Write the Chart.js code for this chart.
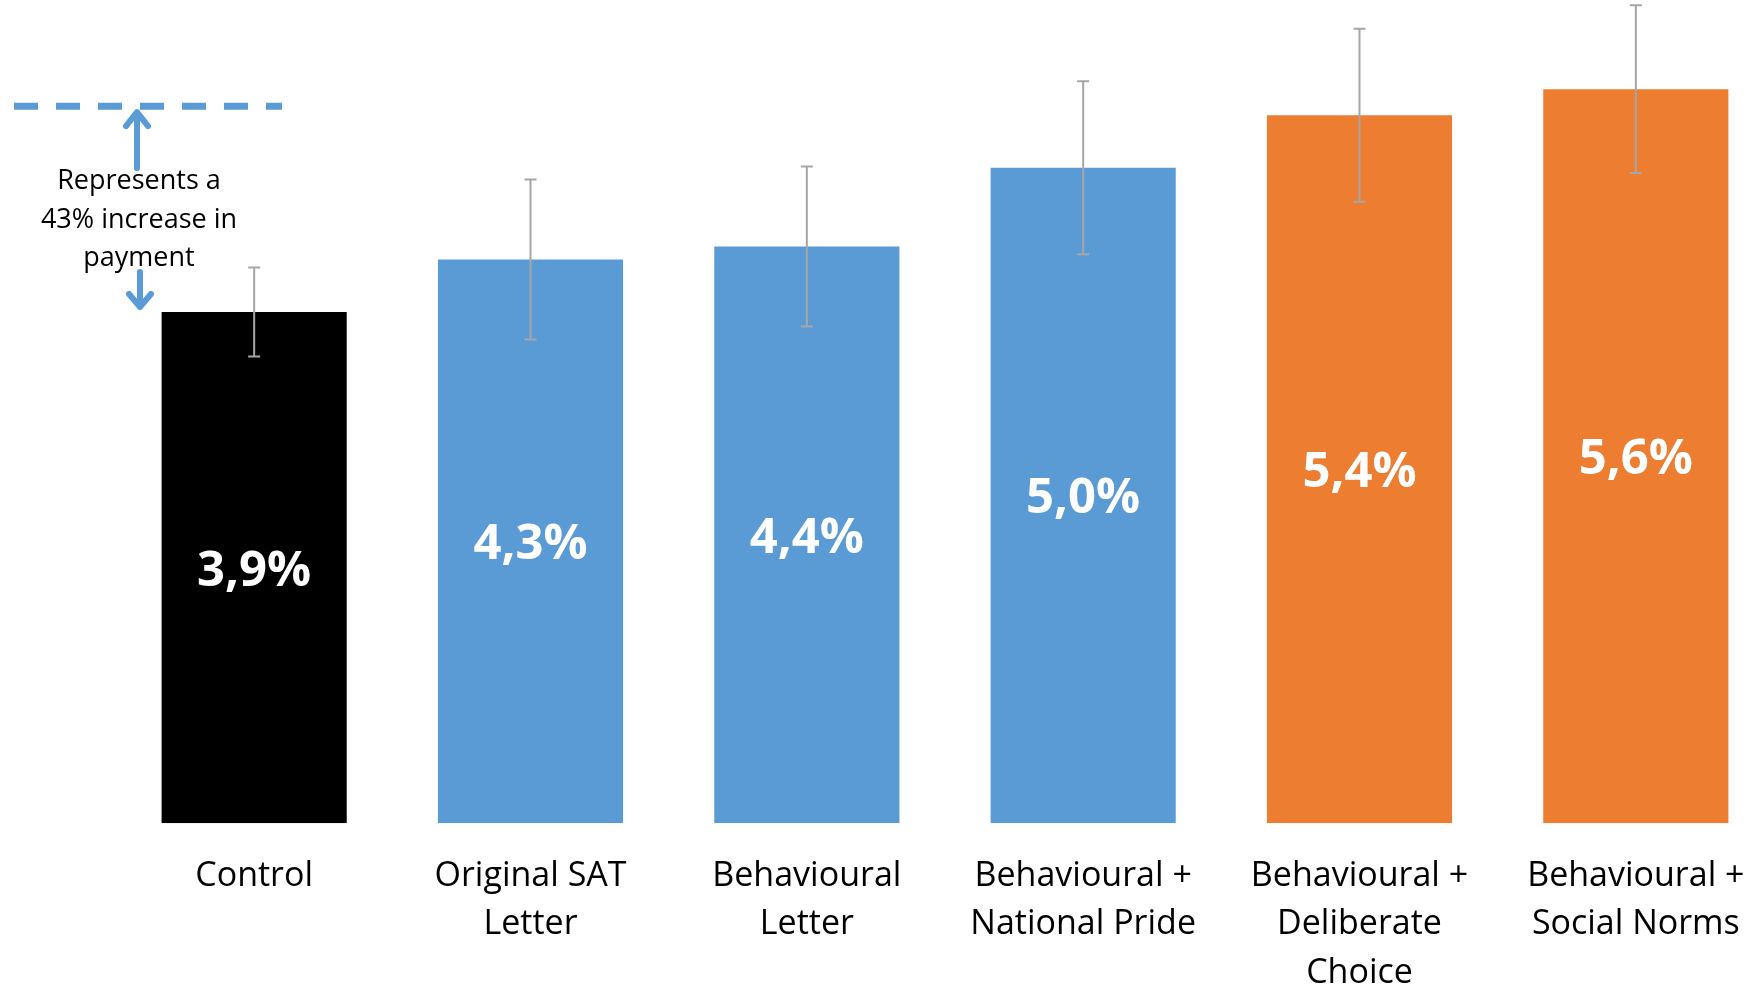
<!DOCTYPE html>
<html>
<head>
<meta charset="utf-8">
<script src="https://cdn.jsdelivr.net/npm/chart.js@4"></script>
<style>
    html, body { margin: 0; padding: 0; background: #fff; overflow: hidden; }
    #wrap { position: absolute; left: 0; top: 0; width: 1800px; height: 1026px; }
</style>
</head>
<body>
<div id="wrap"><canvas id="bar-chart-area"></canvas></div>
<script>
var arrLabel = [
    "Control",
    ["Original SAT", "Letter"],
    ["Behavioural", "Letter"],
    ["Behavioural +", "National Pride"],
    ["Behavioural +", "Deliberate", "Choice"],
    ["Behavioural +", "Social Norms"]
];
var arrData = [3.9, 4.3, 4.4, 5.0, 5.4, 5.6];
var arrError = [0.34, 0.61, 0.61, 0.66, 0.66, 0.64];
var arrColor = ["#000000", "#5B9BD5", "#5B9BD5", "#5B9BD5", "#ED7D31", "#ED7D31"];
var arrNote = ["Represents a", "43% increase in", "payment"];
var noteLevel = 5.47;

// error bars + value labels inside the bars
var barExtras = {
    id: 'barExtras',
    afterDatasetsDraw: function (chart) {
        var ctx = chart.ctx;
        var y = chart.scales.y;
        var meta = chart.getDatasetMeta(0);
        ctx.save();
        meta.data.forEach(function (bar, i) {
            var hi = y.getPixelForValue(arrData[i] + arrError[i]);
            var lo = y.getPixelForValue(arrData[i] - arrError[i]);
            ctx.strokeStyle = "#A6A6A6";
            ctx.lineWidth = 2;
            ctx.beginPath();
            ctx.moveTo(bar.x, hi);
            ctx.lineTo(bar.x, lo);
            ctx.moveTo(bar.x - 6, hi);
            ctx.lineTo(bar.x + 6, hi);
            ctx.moveTo(bar.x - 6, lo);
            ctx.lineTo(bar.x + 6, lo);
            ctx.stroke();
        });
        meta.data.forEach(function (bar, i) {
            ctx.fillStyle = "#ffffff";
            ctx.font = "bold 49px 'Open Sans'";
            ctx.textAlign = "center";
            ctx.textBaseline = "middle";
            ctx.fillText(arrData[i].toFixed(1).replace(".", ",") + "%", bar.x, (bar.y + bar.base) / 2 + 4);
        });
        ctx.restore();
    }
};

// dashed line and arrows at the top left
var noteDraw = {
    id: 'noteDraw',
    afterDraw: function (chart) {
        var ctx = chart.ctx;
        var lineY = chart.scales.y.getPixelForValue(noteLevel);
        var ctrlTop = chart.getDatasetMeta(0).data[0].y;
        var cx = 139;
        ctx.save();
        ctx.strokeStyle = "#5B9BD5";
        ctx.lineWidth = 7;
        ctx.setLineDash([24, 18]);
        ctx.beginPath();
        ctx.moveTo(14, lineY);
        ctx.lineTo(282, lineY);
        ctx.stroke();
        ctx.setLineDash([]);
        ctx.lineWidth = 6;
        ctx.lineCap = "round";
        ctx.lineJoin = "round";
        // up arrow
        ctx.beginPath();
        ctx.moveTo(cx - 2, lineY + 62);
        ctx.lineTo(cx - 2, lineY + 6);
        ctx.moveTo(cx - 13, lineY + 20);
        ctx.lineTo(cx - 2, lineY + 6);
        ctx.lineTo(cx + 9, lineY + 20);
        ctx.stroke();
        // down arrow
        ctx.beginPath();
        ctx.moveTo(cx + 1, ctrlTop - 40);
        ctx.lineTo(cx + 1, ctrlTop - 5);
        ctx.moveTo(cx - 10, ctrlTop - 18);
        ctx.lineTo(cx + 1, ctrlTop - 5);
        ctx.lineTo(cx + 12, ctrlTop - 18);
        ctx.stroke();
        ctx.fillStyle = "#000000";
        ctx.font = "27px 'Open Sans'";
        ctx.textAlign = "center";
        ctx.textBaseline = "alphabetic";
        for (var i in arrNote) {
            ctx.fillText(arrNote[i], cx, 189 + i * 38.5);
        }
        ctx.restore();
    }
};

function renderBar() {
    var configBar = {
        type: 'bar',
        data: {
            labels: arrLabel,
            datasets: [{
                    data: arrData,
                    backgroundColor: arrColor,
                    barPercentage: 0.67,
                    categoryPercentage: 1
                }]
        },
        options: {
            responsive: true,
            maintainAspectRatio: false,
            animation: false,
            layout: {
                padding: {left: 116, right: 26, top: 0, bottom: 0}
            },
            plugins: {
                legend: {display: false},
                tooltip: {enabled: false}
            },
            scales: {
                x: {
                    grid: {display: false, drawTicks: false},
                    border: {display: false},
                    ticks: {
                        color: "#000000",
                        padding: 29,
                        maxRotation: 0,
                        autoSkip: false,
                        font: {family: "'Open Sans'", size: 34, lineHeight: 1.42}
                    }
                },
                y: {
                    display: false,
                    min: 0,
                    max: 6.28
                }
            }
        },
        plugins: [barExtras, noteDraw]
    };
    var myChartBar = document.getElementById("bar-chart-area").getContext("2d");
    var myBar = new Chart(myChartBar, configBar);
}

renderBar();
</script>
</body>
</html>
